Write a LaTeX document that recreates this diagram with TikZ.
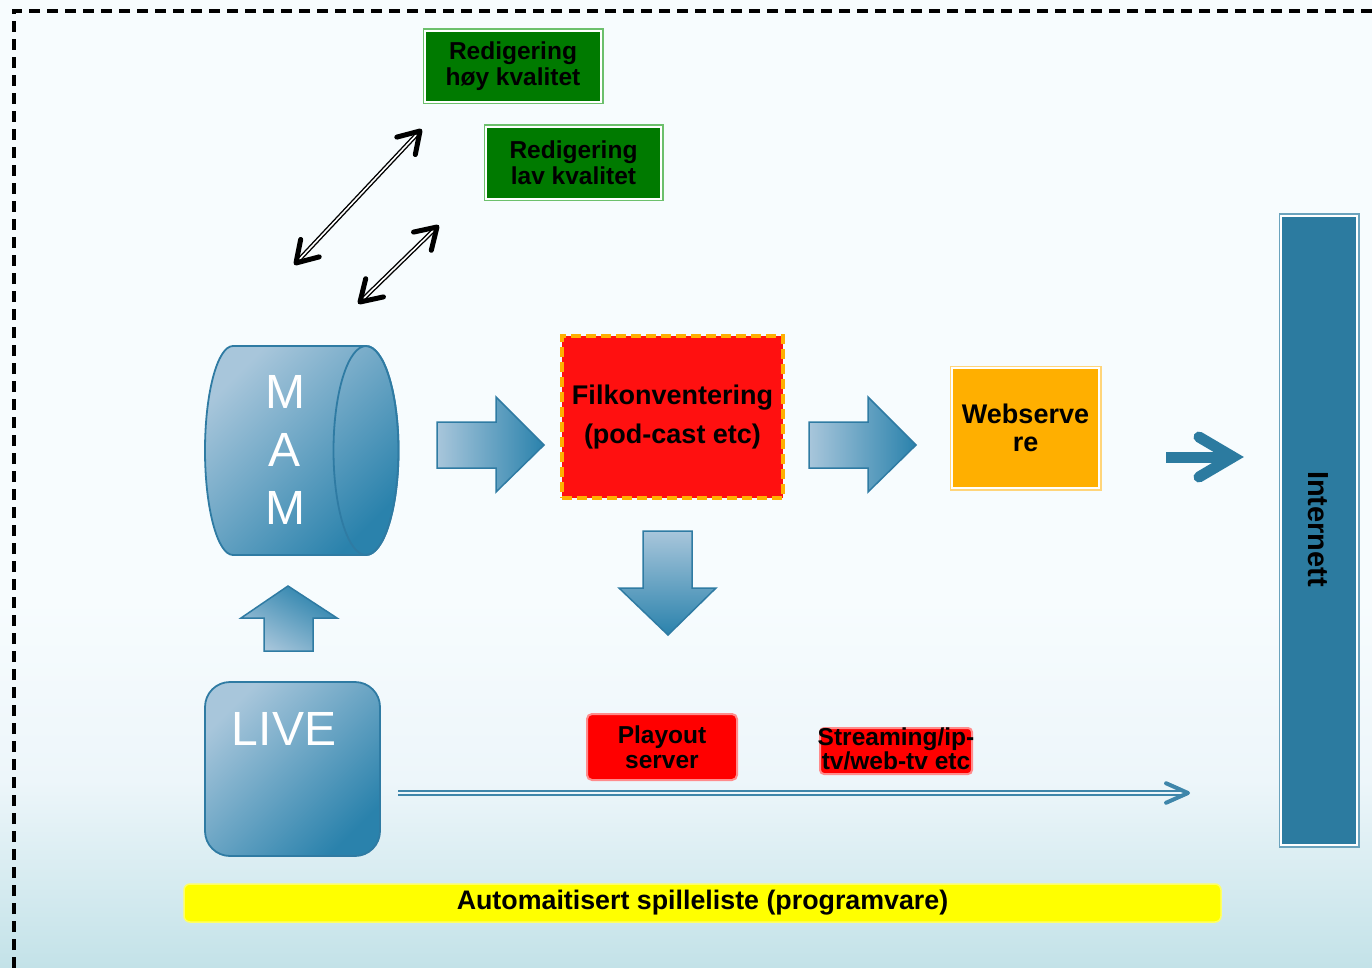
\documentclass[tikz,border=0pt]{standalone}
\usepackage{fontspec}
\setmainfont{Liberation Sans}
\usetikzlibrary{calc}
\definecolor{bgtop}{HTML}{F7FCFE}
\definecolor{bgmid}{HTML}{EDF6FA}
\definecolor{bgbot}{HTML}{C3E2E8}
\definecolor{gdark}{HTML}{007A00}
\definecolor{glight}{HTML}{6CC06C}
\definecolor{bluel}{HTML}{A8C6DB}
\definecolor{blued}{HTML}{2A82AC}
\definecolor{bluestroke}{HTML}{2F7BA3}
\definecolor{tealc}{HTML}{2C7BA0}
\definecolor{linec}{HTML}{3F86AA}
\definecolor{redbox}{HTML}{FF1010}
\definecolor{orng}{HTML}{FFAF00}
\definecolor{orngl}{HTML}{FFD57A}
\definecolor{yel}{HTML}{FFFF00}
\begin{document}
\begin{tikzpicture}[x=1pt,y=-1pt,
  lbl/.style={inner sep=0pt, align=center, text=black},
  greenbox/.style={lbl, fill=gdark, draw=white, line width=1.5pt,
    preaction={draw=glight, line width=5pt},
    font=\fontsize{24.5}{26}\selectfont\bfseries},
  redbox/.style={lbl, fill=redbox, draw=orng, line width=4pt, dash pattern=on 10pt off 5pt,
    font=\fontsize{27}{39}\selectfont\bfseries},
  webbox/.style={lbl, fill=orng, draw=white, line width=1.5pt,
    preaction={draw=orngl, line width=5pt},
    font=\fontsize{27}{28}\selectfont\bfseries},
  netbox/.style={lbl, fill=tealc, draw=white, line width=1.5pt,
    preaction={draw=tealc!70, line width=5pt}},
  softred/.style={lbl, fill=red, draw=red!45, line width=2pt, rounded corners=5pt,
    font=\fontsize{24.5}{25}\selectfont\bfseries},
  yellowbar/.style={lbl, fill=yel, draw=yel!60, line width=1.5pt, rounded corners=6pt,
    font=\fontsize{26.8}{28}\selectfont\bfseries},
  bluefill/.style={draw=bluestroke, line width=1.8pt, top color=bluel, bottom color=blued, shading angle=45},
  blockarrow/.style={draw=bluestroke, line width=1.5pt},
  whitetxt/.style={inner sep=0pt, text=white, align=center, font=\fontsize{48}{58}\selectfont},
  dblshaft/.style={draw=black, line width=1.4pt, double=white, double distance=1.6pt},
  chev/.style={draw=black, line width=5pt, line cap=round, line join=round},
  tealline/.style={draw=linec, line width=1.7pt, double=bgmid, double distance=1.8pt},
  tealchev/.style={draw=linec, line width=4pt, line cap=round, line join=round},
]
\useasboundingbox (0,0) rectangle (1372,968);
% background
\fill[bgtop] (0,0) rectangle (1372,968);
\shade[top color=bgtop, bottom color=bgmid] (0,600) rectangle (1372,780);
\shade[top color=bgmid, bottom color=bgbot] (0,780) rectangle (1372,968);

% green boxes
\node[greenbox, minimum width=176pt, minimum height=71pt] (hoy) at (513,66.5) {Redigering\\høy kvalitet};
\node[greenbox, minimum width=175pt, minimum height=72pt] (lav) at (573.5,163) {Redigering\\lav kvalitet};

% double arrows
\coordinate (d1a) at (296,263); \coordinate (d1b) at (420,131);
\coordinate (d2a) at (360,302); \coordinate (d2b) at (437,227);
\draw[dblshaft] ($(d1a)!2pt!(d1b)$) -- ($(d1b)!2pt!(d1a)$);
\draw[chev] ($(d1b)!24pt!32:(d1a)$) -- (d1b) -- ($(d1b)!24pt!-32:(d1a)$);
\draw[chev] ($(d1a)!24pt!32:(d1b)$) -- (d1a) -- ($(d1a)!24pt!-32:(d1b)$);
\draw[dblshaft] ($(d2a)!2pt!(d2b)$) -- ($(d2b)!2pt!(d2a)$);
\draw[chev] ($(d2b)!24pt!32:(d2a)$) -- (d2b) -- ($(d2b)!24pt!-32:(d2a)$);
\draw[chev] ($(d2a)!24pt!32:(d2b)$) -- (d2a) -- ($(d2a)!24pt!-32:(d2b)$);

% MAM cylinder
\path[bluefill] (233,346) -- (366,346)
  arc[start angle=-90, end angle=90, x radius=32.5, y radius=104.5]
  -- (233,555)
  arc[start angle=90, end angle=270, x radius=28, y radius=104.5] -- cycle;
\draw[draw=bluestroke, line width=1.8pt] (366,450.5) ellipse[x radius=32.5, y radius=104.5];
\node[whitetxt] (mam) at (285,450) {M\\A\\M};

% block arrows
\path[blockarrow, left color=bluel, right color=blued]
  (437,422) -- (496,422) -- (496,397) -- (544,445) -- (496,492) -- (496,468) -- (437,468) -- cycle;
\path[blockarrow, left color=bluel, right color=blued]
  (809,422) -- (868,422) -- (868,397) -- (916,445) -- (868,492) -- (868,468) -- (809,468) -- cycle;
\path[blockarrow, top color=bluel, bottom color=blued]
  (643,531) -- (692,531) -- (692,588) -- (716,588) -- (668,635) -- (619,588) -- (643,588) -- cycle;
\path[blockarrow, top color=blued, bottom color=bluel, shading angle=-30]
  (264,651) -- (264,618) -- (241,618) -- (288,586) -- (337,618) -- (313,618) -- (313,651) -- cycle;

% Filkonventering
\node[redbox, minimum width=221pt, minimum height=162pt] (filk) at (672.5,417) {Filkonventering\\(pod-cast etc)};

% Webserver
\node[webbox, minimum width=147pt, minimum height=120pt] (web) at (1025.5,428) {Webserve\\re};

% arrow to Internett
\coordinate (ia) at (1166,457); \coordinate (ib) at (1233,457);
\draw[tealc, line width=11pt] (ia) -- ($(ib)+(-6,0)$);
\draw[tealc, line width=11pt, line cap=round, line join=miter] ($(ib)+(-34,-20)$) -- (ib) -- ($(ib)+(-34,20)$);

% Internett
\node[netbox, minimum width=76pt, minimum height=629pt] (net) at (1319,530.5) {};
\node[lbl, rotate=-90, font=\fontsize{29}{30}\selectfont\bfseries] (nettxt) at (1318,529) {Internett};

% LIVE
\node[bluefill, rounded corners=25pt, minimum width=175pt, minimum height=174pt, inner sep=0pt] (live) at (292.5,769) {};
\node[whitetxt] (livetxt) at (284,729) {LIVE};

% Playout / Streaming
\node[softred, minimum width=150pt, minimum height=66pt] (play) at (662,747) {Playout\\server};
\node[softred, minimum width=152pt, minimum height=46pt, rounded corners=4pt] (stream) at (896,751) {};
\node[lbl, font=\fontsize{24.5}{24}\selectfont\bfseries] (streamtxt) at (896,749) {Streaming/ip-\\tv/web-tv etc};

% long line arrow
\coordinate (la) at (398,793); \coordinate (lb) at (1188,793);
\draw[tealline] (la) -- ($(lb)+(-3,0)$);
\draw[tealchev] ($(lb)!24pt!24:(la)$) -- (lb) -- ($(lb)!24pt!-24:(la)$);

% yellow bar
\node[yellowbar, minimum width=1037pt, minimum height=38pt] (auto) at (702.5,903) {Automaitisert spilleliste (programvare)};

% dashed frame
\draw[black, line width=4pt, dash pattern=on 11pt off 7pt] (14,968) -- (14,11) -- (1372,11);
\end{tikzpicture}
\end{document}
